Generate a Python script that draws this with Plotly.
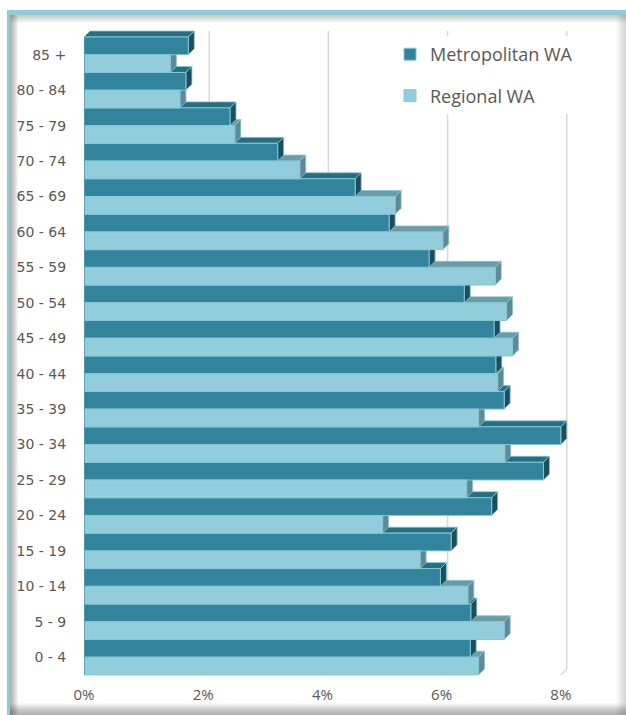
import plotly.graph_objects as go

# Age groups, youngest first (drawn bottom to top)
age_groups = ["0 - 4", "5 - 9", "10 - 14", "15 - 19", "20 - 24", "25 - 29",
              "30 - 34", "35 - 39", "40 - 44", "45 - 49", "50 - 54", "55 - 59",
              "60 - 64", "65 - 69", "70 - 74", "75 - 79", "80 - 84", "85 +"]

# Share of population in each age group (%)
metro_pct = [6.48, 6.49, 5.98, 6.16, 6.84, 7.71, 8.00, 7.05, 6.91, 6.88,
             6.38, 5.79, 5.12, 4.55, 3.25, 2.45, 1.71, 1.75]
regional_pct = [6.62, 7.05, 6.44, 5.64, 5.01, 6.42, 7.06, 6.62, 6.94, 7.19,
                7.09, 6.90, 6.02, 5.22, 3.62, 2.53, 1.61, 1.45]

x_ticks = [0, 2, 4, 6, 8]
x_tick_text = ["0%", "2%", "4%", "6%", "8%"]

# ---- page geometry (pixels) ----
W, H = 626, 715
X0_PX, X1_PX = 84, 620          # left / right of plotting area
PX_PER_PCT = 59.6
TOP_BAR_PX = 37                 # top edge of the highest bar
PX_PER_ROW = 35.44
Y_TOP_PX, Y_BOT_PX = 20, 684
DEPTH_PX = 6                    # extrusion of the 3-D bars

def paper_x(p):
    return p / W

def paper_y(p):
    return 1 - p / H

def px_to_row(p):
    return (len(age_groups) - 0.5) - (p - TOP_BAR_PX) / PX_PER_ROW

x_range = [0, (X1_PX - X0_PX) / PX_PER_PCT]
y_range = [px_to_row(Y_BOT_PX), px_to_row(Y_TOP_PX)]
dX = DEPTH_PX / PX_PER_PCT
dY = DEPTH_PX / PX_PER_ROW

METRO_FRONT = "#31849b"
METRO_TOP = "#276e81"
METRO_SIDE = "#1b4f5d"
REG_FRONT = "#92cddc"
REG_TOP = "#6a9ba6"
REG_SIDE = "#5d8a94"
EDGE = "#86c6d7"
TEXT = "#595959"

rows = list(range(len(age_groups)))

fig = go.Figure()
fig.add_trace(go.Bar(
    name="Metropolitan WA", orientation="h", y=rows, x=metro_pct,
    width=0.5, offset=0, legendgroup="m",
    marker=dict(color=METRO_FRONT, line=dict(color=EDGE, width=1)),
    hovertemplate="%{text}: %{x:.2f}%<extra>Metropolitan WA</extra>",
    text=age_groups, textposition="none"))
fig.add_trace(go.Bar(
    name="Regional WA", orientation="h", y=rows, x=regional_pct,
    width=0.5, offset=-0.5, legendgroup="r",
    marker=dict(color=REG_FRONT, line=dict(color=EDGE, width=1)),
    hovertemplate="%{text}: %{x:.2f}%<extra>Regional WA</extra>",
    text=age_groups, textposition="none"))

shapes = []
# back-wall gridlines and floor edge
for g in x_ticks[1:]:
    shapes.append(dict(type="line", xref="x", yref="y", layer="below",
                       x0=g + dX, x1=g + dX, y0=-0.5 + dY, y1=len(rows) - 0.5 + dY,
                       line=dict(color="#d9d9d9", width=1.5)))
    shapes.append(dict(type="line", xref="x", yref="y", layer="below",
                       x0=g + dX, x1=g, y0=-0.5 + dY, y1=-0.5,
                       line=dict(color="#d9d9d9", width=1.5)))

# bar segments: (value, bottom, top, top colour, side colour)
segments = []
for i, (m, r) in enumerate(zip(metro_pct, regional_pct)):
    segments.append((r, i - 0.5, i, REG_TOP, REG_SIDE))
    segments.append((m, i, i + 0.5, METRO_TOP, METRO_SIDE))

def poly(pts):
    return "M " + " L ".join(f"{x:.4f},{y:.4f}" for x, y in pts) + " Z"

for v, y0, y1, top_c, _ in segments:
    shapes.append(dict(type="path", xref="x", yref="y", layer="below",
                       path=poly([(0, y1), (v, y1), (v + dX, y1 + dY), (dX, y1 + dY)]),
                       fillcolor=top_c, line=dict(color=EDGE, width=0.8)))
for v, y0, y1, _, side_c in segments:
    shapes.append(dict(type="path", xref="x", yref="y", layer="below",
                       path=poly([(v, y0), (v, y1), (v + dX, y1 + dY), (v + dX, y0 + dY)]),
                       fillcolor=side_c, line=dict(color=EDGE, width=0.8)))

# left edge of the bars
shapes.append(dict(type="line", xref="x", yref="y", layer="above",
                   x0=0, x1=0, y0=-0.5, y1=len(rows) - 0.5,
                   line=dict(color="#3b8497", width=1)))

# frame: inner shadow and blue border
def rect_px(x0, y0, x1, y1, color):
    return dict(type="rect", xref="paper", yref="paper", layer="above",
                x0=paper_x(x0), x1=paper_x(x1), y0=paper_y(y1), y1=paper_y(y0),
                fillcolor=color, line=dict(width=0))

for k in range(1, 9):
    a = 0.055
    shapes.append(rect_px(10, 15, 10 + k, H, f"rgba(60,60,60,{a})"))      # left
    shapes.append(rect_px(10, 15, W, 15 + k, f"rgba(90,90,90,{a*0.8})"))  # top
    shapes.append(rect_px(10, H - 1 - k * 1.3, W, H, f"rgba(60,60,60,{a})"))  # bottom
    shapes.append(rect_px(W - k * 1.2, 15, W, H, f"rgba(90,90,90,{a*0.5})"))  # right
shapes.append(rect_px(7, 10, W, 15, "#8ecbdb"))
shapes.append(rect_px(7, 10, 10, H, "#8ecbdb"))

fig.update_layout(
    width=W, height=H,
    margin=dict(l=0, r=0, t=0, b=0),
    paper_bgcolor="white", plot_bgcolor="rgba(0,0,0,0)",
    barmode="overlay",
    shapes=shapes,
    showlegend=True,
    legend=dict(x=paper_x(390), y=paper_y(36), xanchor="left", yanchor="top",
                bgcolor="white", font=dict(family="Open Sans", size=18, color=TEXT),
                tracegroupgap=15, traceorder="grouped"),
    xaxis=dict(domain=[paper_x(X0_PX), paper_x(X1_PX)], range=x_range,
               tickvals=x_ticks, ticktext=x_tick_text,
               showgrid=False, zeroline=False, showline=False,
               ticks="",
               tickfont=dict(family="Open Sans", size=15, color=TEXT),
               automargin=False, fixedrange=True),
    yaxis=dict(domain=[paper_y(Y_BOT_PX), paper_y(Y_TOP_PX)], range=y_range,
               tickvals=rows, ticktext=age_groups,
               showgrid=False, zeroline=False, showline=False,
               ticks="outside", ticklen=14, tickcolor="rgba(0,0,0,0)",
               tickfont=dict(family="DejaVu Sans", size=14, color=TEXT),
               automargin=False, fixedrange=True),
)

fig.write_html("out.html")
